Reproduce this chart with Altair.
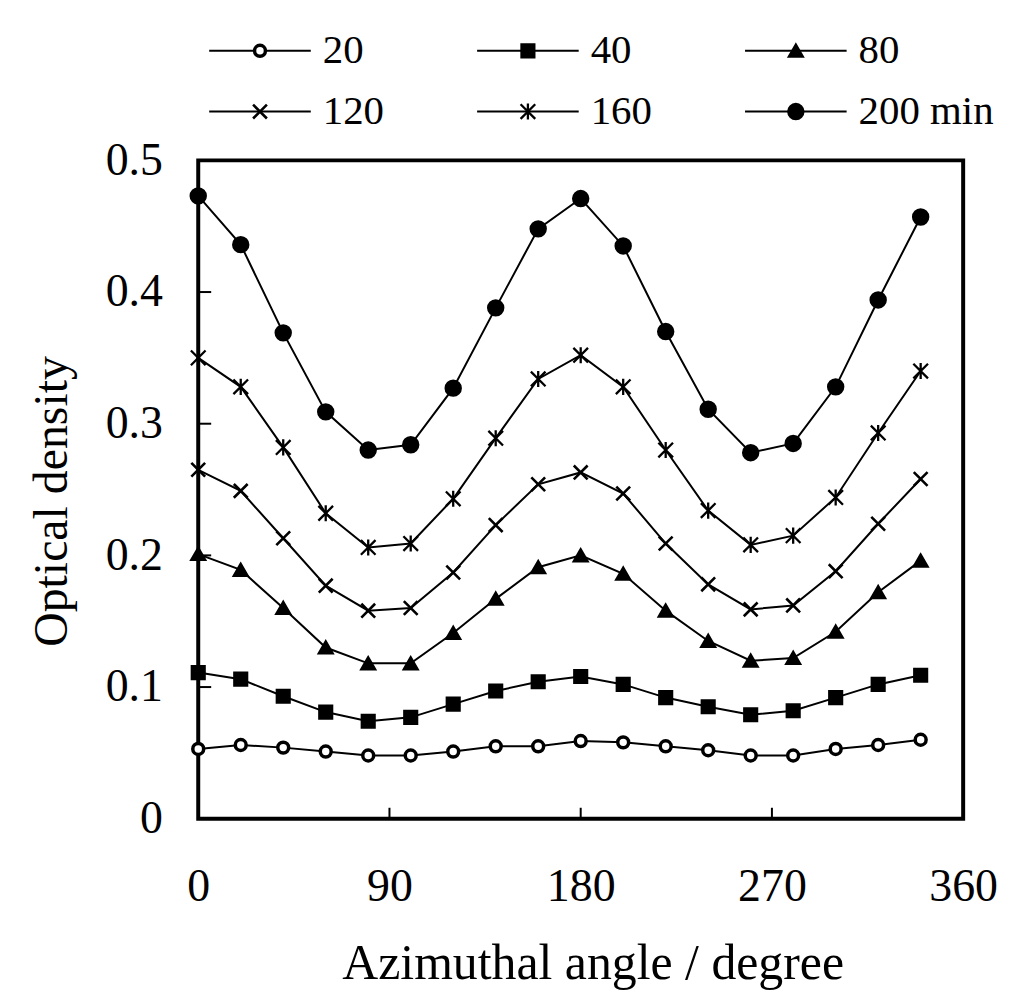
import altair as alt
import pandas as pd

angles = [0, 20, 40, 60, 80, 100, 120, 140, 160, 180, 200, 220, 240, 260, 280, 300, 320, 340]
series_names = ["20", "40", "80", "120", "160", "200"]
legend_labels = ["20", "40", "80", "120", "160", "200 min"]

od_20 = [0.053, 0.056, 0.054, 0.051, 0.048, 0.048, 0.051, 0.055, 0.055, 0.059,
         0.058, 0.055, 0.052, 0.048, 0.048, 0.053, 0.056, 0.060]
od_40 = [0.111, 0.106, 0.093, 0.081, 0.074, 0.077, 0.087, 0.097, 0.104, 0.108,
         0.102, 0.092, 0.085, 0.079, 0.082, 0.092, 0.102, 0.109]
od_80 = [0.201, 0.189, 0.160, 0.130, 0.118, 0.118, 0.141, 0.167, 0.191, 0.200,
         0.186, 0.158, 0.135, 0.120, 0.122, 0.142, 0.172, 0.196]
od_120 = [0.265, 0.249, 0.213, 0.177, 0.158, 0.160, 0.187, 0.223, 0.254, 0.263,
          0.247, 0.209, 0.178, 0.159, 0.162, 0.188, 0.224, 0.258]
od_160 = [0.350, 0.328, 0.282, 0.232, 0.206, 0.209, 0.243, 0.289, 0.334, 0.352,
          0.328, 0.280, 0.234, 0.208, 0.215, 0.244, 0.293, 0.340]
od_200 = [0.473, 0.436, 0.369, 0.309, 0.280, 0.284, 0.327, 0.388, 0.448, 0.471,
          0.435, 0.370, 0.311, 0.278, 0.285, 0.328, 0.394, 0.457]

x_ticks = [90, 180, 270]
y_ticks = [0.1, 0.2, 0.3, 0.4]

all_series = [od_20, od_40, od_80, od_120, od_160, od_200]
rows = []
for name, vals in zip(series_names, all_series):
    for a, v in zip(angles, vals):
        rows.append({"series": name, "angle": a, "od": v})
df = pd.DataFrame(rows)

W, H = 768, 661
FONT = "Liberation Serif"

X_PATH = "M-1,-1L1,1M-1,1L1,-1"
STAR_PATH = "M-1,-1L1,1M-1,1L1,-1M0,-1.1L0,1.1"
shape_scale = alt.Scale(domain=series_names,
                        range=["circle", "square", "triangle-up", X_PATH, STAR_PATH, "circle"])
fill_scale = alt.Scale(domain=series_names,
                       range=["white", "black", "black", "black", "black", "black"])
size_scale = alt.Scale(domain=series_names, range=[120, 240, 380, 380, 380, 240])
sw_scale = alt.Scale(domain=series_names, range=[3.5, 2, 2, 4.5, 4.5, 2])

x_scale = alt.Scale(domain=[0, 360], nice=False, zero=False)
y_scale = alt.Scale(domain=[0, 0.5], nice=False)

base = alt.Chart(df)

lines = base.mark_line(color="black", strokeWidth=2).encode(
    x=alt.X("angle:Q", scale=x_scale,
            axis=alt.Axis(values=[0, 90, 180, 270, 360], ticks=False, domain=False, grid=False,
                          labelFont=FONT, labelFontSize=46, labelColor="black",
                          labelPadding=46, labelFlush=False,
                          title="Azimuthal angle / degree", titleFont=FONT, titleFontSize=50,
                          titleFontWeight="normal", titleColor="black",
                          titleX=W / 2 + 12, titleAlign="center",
                          titleY=160, titleBaseline="alphabetic")),
    y=alt.Y("od:Q", scale=y_scale,
            axis=alt.Axis(values=[0, 0.1, 0.2, 0.3, 0.4, 0.5], ticks=False, domain=False, grid=False,
                          labelExpr="datum.value == 0 ? '0' : format(datum.value, '.1f')",
                          labelFont=FONT, labelFontSize=46, labelColor="black",
                          labelPadding=36, labelFlush=False, labelBaseline="middle",
                          title="Optical density", titleFont=FONT, titleFontSize=48,
                          titleFontWeight="normal", titleColor="black", titleAngle=270,
                          titleX=-146, titleY=342, titleAlign="center", titleBaseline="middle")),
    detail="series:N",
)

points = base.mark_point(stroke="black", opacity=1).encode(
    x=alt.X("angle:Q", scale=x_scale),
    y=alt.Y("od:Q", scale=y_scale),
    shape=alt.Shape("series:N", scale=shape_scale, legend=None),
    fill=alt.Fill("series:N", scale=fill_scale, legend=None),
    size=alt.Size("series:N", scale=size_scale, legend=None),
    strokeWidth=alt.StrokeWidth("series:N", scale=sw_scale, legend=None),
)

xt = alt.Chart(pd.DataFrame({"t": x_ticks})).mark_rule(color="black", strokeWidth=2).encode(
    x=alt.X("t:Q", scale=x_scale), y=alt.value(H), y2=alt.value(H - 11))
yt = alt.Chart(pd.DataFrame({"t": y_ticks})).mark_rule(color="black", strokeWidth=2).encode(
    y=alt.Y("t:Q", scale=y_scale), x=alt.value(0), x2=alt.value(13))

# legend (3 columns x 2 rows above the plot)
leg_rows = []
for i, (name, lab) in enumerate(zip(series_names, legend_labels)):
    col, row = i % 3, i // 3
    x0 = 11 + col * 269
    leg_rows.append({"series": name, "label": lab,
                     "x1": x0, "x2": x0 + 102, "xm": x0 + 51, "xt": x0 + 114,
                     "y": -110 + row * 61})
leg = pd.DataFrame(leg_rows)
lb = alt.Chart(leg)
leg_lines = lb.mark_rule(color="black", strokeWidth=2).encode(
    x=alt.X("x1:Q", scale=None), x2="x2:Q", y=alt.Y("y:Q", scale=None))
leg_pts = lb.mark_point(stroke="black", opacity=1).encode(
    x=alt.X("xm:Q", scale=None), y=alt.Y("y:Q", scale=None),
    shape=alt.Shape("series:N", scale=shape_scale, legend=None),
    fill=alt.Fill("series:N", scale=fill_scale, legend=None),
    size=alt.Size("series:N", scale=size_scale, legend=None),
    strokeWidth=alt.StrokeWidth("series:N", scale=sw_scale, legend=None),
)
leg_text = lb.mark_text(font=FONT, fontSize=41, align="left", baseline="middle", color="black").encode(
    x=alt.X("xt:Q", scale=None), y=alt.Y("y:Q", scale=None), text="label:N")

chart = alt.layer(lines, points, xt, yt, leg_lines, leg_pts, leg_text).properties(
    width=W, height=H,
    autosize=alt.AutoSizeParams(type="none"),
    padding={"left": 191, "top": 151, "right": 40, "bottom": 175},
).configure(background="white").configure_view(stroke="black", strokeWidth=4)

chart.save("out.html", embed_options={"renderer": "svg", "actions": False})
